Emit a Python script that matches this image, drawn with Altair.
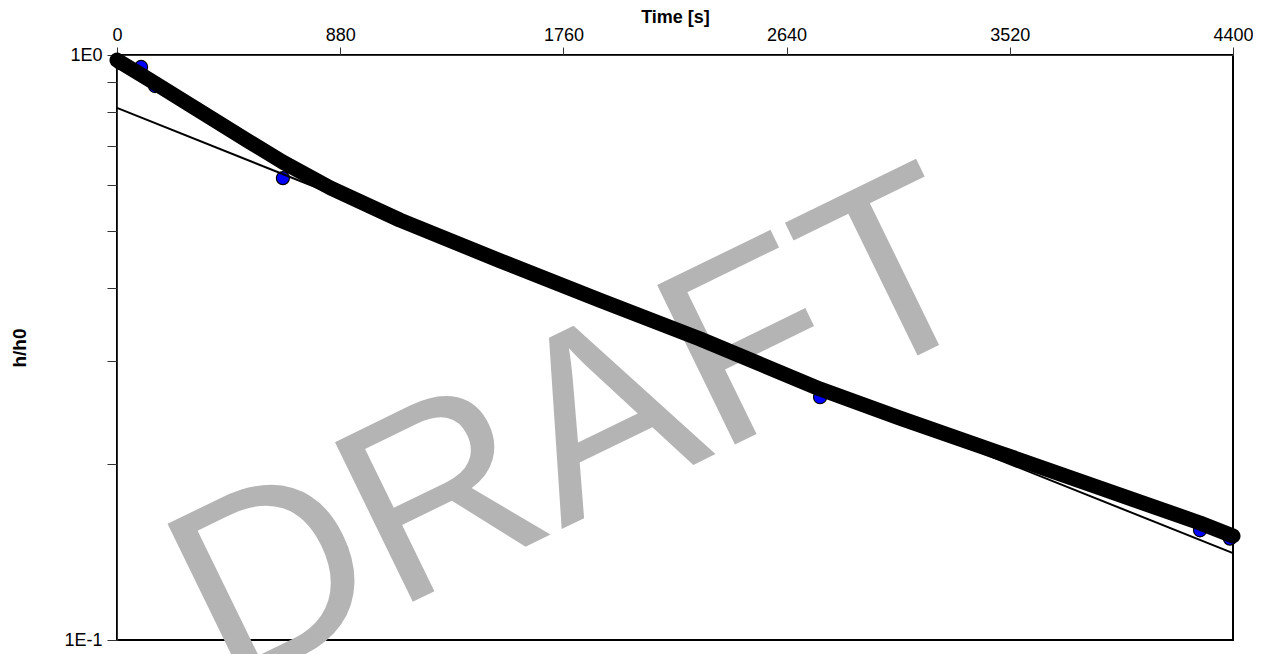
import altair as alt
import pandas as pd

# Observed drawdown ratio h/h0 versus time (read along the dense data band)
obs_time = [0, 130, 327, 524, 654, 840, 1116, 1510, 1904, 2299, 2772, 3087, 3481,
            3876, 4270, 4400]
obs_h = [0.980, 0.906, 0.802, 0.710, 0.656, 0.593, 0.522, 0.445, 0.381, 0.327,
         0.2685, 0.2395, 0.2088, 0.1819, 0.1585, 0.1506]

# Individual observations that stand out of the band (blue markers)
pt_time = [12, 95, 150, 654, 2772, 4270, 4388]
pt_h = [0.969, 0.954, 0.885, 0.616, 0.260, 0.154, 0.149]

# Fitted straight-line solution
fit_time = [0, 4400]
fit_h = [0.812, 0.1408]

x_ticks = [0, 880, 1760, 2640, 3520, 4400]
y_ticks = [0.1, 0.2, 0.3, 0.4, 0.5, 0.6, 0.7, 0.8, 0.9, 1.0]
watermark = "DRAFT"

FONT = "Liberation Sans"
W, H = 1116, 585

obs_df = pd.DataFrame({"t": obs_time, "h": obs_h})
pt_df = pd.DataFrame({"t": pt_time, "h": pt_h})
fit_df = pd.DataFrame({"t": fit_time, "h": fit_h})

x_enc = alt.X(
    "t:Q",
    scale=alt.Scale(domain=[0, 4400], nice=False, zero=False),
    axis=alt.Axis(
        orient="top", values=x_ticks, format="d", title="Time [s]",
        titleFontSize=18, titleFontWeight="bold", titleFont=FONT, titleColor="black",
        titlePadding=0, labelFontSize=18, labelFont=FONT, labelColor="black",
        labelPadding=3, labelFlush=False, labelOverlap=False, tickSize=8,
        tickColor="#333333", domainColor="#333333", grid=False,
    ),
)
y_enc = alt.Y(
    "h:Q",
    scale=alt.Scale(type="log", domain=[0.1, 1.0], nice=False),
    axis=alt.Axis(
        orient="left", values=y_ticks, title="h/h0",
        labelExpr="abs(datum.value-1)<1e-9 ? '1E0' : (abs(datum.value-0.1)<1e-9 ? '1E-1' : '')",
        titleFontSize=19, titleFontWeight="bold", titleFont=FONT, titleColor="black",
        titlePadding=34, labelFontSize=18, labelFont=FONT, labelColor="black",
        labelPadding=5, labelOverlap=False, tickSize=10,
        tickColor="#333333", domainColor="#333333", grid=False,
    ),
)

wm = alt.Chart(pd.DataFrame({"w": [watermark]})).mark_text(
    font=FONT, fontSize=258, color="#b4b4b4", angle=334,
    align="center", baseline="middle",
).encode(x=alt.value(462), y=alt.value(380), text="w:N")

pts = alt.Chart(pt_df).mark_point(
    shape="circle", filled=True, fill="#0000ff", stroke="black",
    strokeWidth=1.2, size=170, opacity=1,
).encode(x=x_enc, y=y_enc)

band = alt.Chart(obs_df).mark_line(
    color="black", strokeWidth=15, strokeCap="round", strokeJoin="round",
).encode(x=x_enc, y=y_enc)

fit = alt.Chart(fit_df).mark_line(color="black", strokeWidth=2).encode(x=x_enc, y=y_enc)

chart = alt.layer(wm, pts, band, fit).properties(
    width=W, height=H,
    autosize=alt.AutoSizeParams(type="none"),
    padding={"left": 109, "top": 47, "right": 20, "bottom": 14},
).configure_view(stroke="black", strokeWidth=2)

chart.save("out.html", embed_options={"renderer": "svg", "actions": False})
